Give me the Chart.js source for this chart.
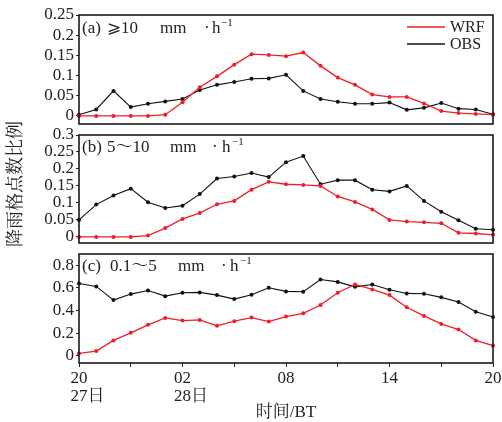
<!DOCTYPE html>
<html>
<head>
<meta charset="utf-8">
<script src="https://cdn.jsdelivr.net/npm/chart.js@4.4.1/dist/chart.umd.min.js"></script>
<style>
  html, body { margin: 0; padding: 0; background: #fff; }
  #wrap { position: relative; width: 502px; height: 422px; }
  #wrap canvas { position: absolute; left: 0; top: 0; }
</style>
</head>
<body>
<div id="wrap">
  <canvas id="chartA" width="502" height="422"></canvas>
  <canvas id="chartB" width="502" height="422"></canvas>
  <canvas id="chartC" width="502" height="422"></canvas>
</div>
<script>
// hours after 20:00 on the 27th
const hours = [0,1,2,3,4,5,6,7,8,9,10,11,12,13,14,15,16,17,18,19,20,21,22,23,24];
const xTickValues = [0,3,6,9,12,15,18,21,24];
const xLabelValues = [0,6,12,18,24];
const xLabelTop = ['20','02','08','14','20'];
const xLabelBottom = ['27日','28日','','',''];

// (a) >=10 mm/h
const wrfA = [0,0,0,0,0,0.003,0.034,0.071,0.098,0.127,0.153,0.151,0.148,0.157,0.124,0.095,0.077,0.053,0.047,0.047,0.031,0.012,0.007,0.005,0.003];
const obsA = [0.003,0.016,0.062,0.022,0.030,0.036,0.042,0.064,0.077,0.084,0.092,0.093,0.102,0.062,0.042,0.035,0.030,0.030,0.033,0.015,0.020,0.032,0.018,0.016,0.004];
// (b) 5~10 mm/h
const wrfB = [0,0,0,0,0.004,0.026,0.053,0.070,0.096,0.106,0.139,0.162,0.155,0.153,0.150,0.119,0.103,0.081,0.050,0.045,0.043,0.040,0.012,0.010,0.006];
const obsB = [0.050,0.095,0.122,0.142,0.102,0.085,0.092,0.126,0.172,0.178,0.188,0.176,0.220,0.238,0.155,0.167,0.167,0.139,0.134,0.150,0.106,0.074,0.049,0.024,0.021];
// (c) 0.1~5 mm/h
const wrfC = [0.020,0.041,0.135,0.202,0.273,0.334,0.311,0.316,0.264,0.305,0.337,0.302,0.346,0.375,0.448,0.557,0.630,0.586,0.536,0.428,0.352,0.281,0.231,0.135,0.088];
const obsC = [0.639,0.613,0.492,0.545,0.577,0.527,0.557,0.560,0.536,0.501,0.540,0.601,0.569,0.566,0.674,0.653,0.609,0.630,0.583,0.551,0.548,0.516,0.475,0.389,0.343];

const yTicksA = [0,0.05,0.1,0.15,0.2,0.25];
const yTicksB = [0,0.05,0.1,0.15,0.2,0.25,0.3];
const yTicksC = [0,0.2,0.4,0.6,0.8];

const SERIF = "'Liberation Serif', 'DejaVu Serif', 'Noto Serif CJK SC', 'Noto Sans CJK SC', serif";
const RED = '#ee1f26';
const BLACK = '#111111';

const toXY = arr => arr.map((v, i) => ({ x: hours[i], y: v }));

// frame, panel label, legend, axis titles, bottom labels
const decoPlugin = {
    id: 'deco',
    afterDraw(chart, args, opts) {
        const ctx = chart.ctx;
        const a = chart.chartArea;
        ctx.save();
        ctx.strokeStyle = '#1a1a1a';
        ctx.lineWidth = 1.6;
        ctx.strokeRect(a.left, a.top, a.right - a.left, a.bottom - a.top);

        // panel label pieces
        ctx.fillStyle = '#222';
        ctx.textBaseline = 'middle';
        ctx.textAlign = 'left';
        const ly = a.top + opts.labelDy;
        opts.label.forEach(p => {
            ctx.font = (p.sup ? '11px ' : '17px ') + SERIF;
            ctx.fillText(p.t, a.left + p.dx, p.sup ? ly - 6 : ly);
        });

        if (opts.legend) {
            const items = [['WRF', RED, 27], ['OBS', BLACK, 44]];
            ctx.font = '16px ' + SERIF;
            items.forEach(([t, c, y]) => {
                ctx.strokeStyle = c;
                ctx.lineWidth = 1.3;
                ctx.beginPath();
                ctx.moveTo(407, y);
                ctx.lineTo(445, y);
                ctx.stroke();
                ctx.fillStyle = '#222';
                ctx.fillText(t, 450, y + 1);
            });
        }

        if (opts.yTitle) {
            ctx.save();
            ctx.translate(16, 184);
            ctx.rotate(-Math.PI / 2);
            ctx.textAlign = 'center';
            ctx.font = '18px ' + SERIF;
            ctx.fillStyle = '#222';
            ctx.fillText('降雨格点数比例', 0, 0);
            ctx.restore();
        }

        if (opts.xLabels) {
            const xs = chart.scales.x;
            ctx.font = '17px ' + SERIF;
            ctx.fillStyle = '#222';
            ctx.textAlign = 'left';
            xLabelValues.forEach((v, i) => {
                const px = xs.getPixelForValue(v);
                const w = ctx.measureText(xLabelTop[i]).width;
                const left = px - w / 2;
                ctx.fillText(xLabelTop[i], left, 379);
                if (xLabelBottom[i]) ctx.fillText(xLabelBottom[i], left, 397);
            });
            ctx.textAlign = 'center';
            ctx.fillText('时间/BT', (chart.chartArea.left + chart.chartArea.right) / 2, 413);
        }
        ctx.restore();
    }
};

function makeChart(id, wrf, obs, yMin, yMax, yTicks, top, bottom, deco) {
    const showX = !!deco.xLabels;
    return new Chart(document.getElementById(id).getContext('2d'), {
        type: 'line',
        data: {
            datasets: [
                { label: 'WRF', data: toXY(wrf), borderColor: RED, backgroundColor: RED,
                  borderWidth: 1.3, pointRadius: 2, pointBorderWidth: 0, tension: 0, clip: false },
                { label: 'OBS', data: toXY(obs), borderColor: BLACK, backgroundColor: BLACK,
                  borderWidth: 1.1, pointRadius: 2, pointBorderWidth: 0, tension: 0, clip: false }
            ]
        },
        options: {
            responsive: false,
            animation: false,
            events: [],
            layout: { padding: { left: 0, right: 9, top: top, bottom: showX ? 422 - bottom - 4 : 422 - bottom } },
            plugins: { legend: { display: false }, tooltip: { enabled: false }, deco: deco },
            scales: {
                x: {
                    type: 'linear', min: 0, max: 24, display: showX,
                    afterBuildTicks: s => { s.ticks = xTickValues.map(v => ({ value: v })); },
                    afterFit: s => { s.height = showX ? 4 : 0; s.paddingLeft = 0; s.paddingRight = 0; },
                    ticks: { display: false },
                    border: { display: false },
                    grid: { drawOnChartArea: false, drawTicks: true, tickLength: 4, color: '#222', lineWidth: 1 }
                },
                y: {
                    min: yMin, max: yMax,
                    afterBuildTicks: s => { s.ticks = yTicks.map(v => ({ value: v })); },
                    afterFit: s => { s.width = 79; s.paddingTop = 0; s.paddingBottom = 0; },
                    ticks: {
                        autoSkip: false, padding: 2, color: '#222',
                        font: { family: SERIF, size: 17 },
                        callback: v => String(Math.round(v * 100) / 100)
                    },
                    border: { display: false },
                    grid: { drawOnChartArea: false, drawTicks: true, tickLength: 3, color: '#222', lineWidth: 1 }
                }
            }
        },
        plugins: [decoPlugin]
    });
}

makeChart('chartA', wrfA, obsA, -0.02, 0.25, yTicksA, 15, 124, {
    labelDy: 14, legend: true,
    label: [{ t: '(a)', dx: 3 }, { t: '⩾10', dx: 28 }, { t: 'mm', dx: 81 }, { t: '·', dx: 125 }, { t: 'h', dx: 133 }, { t: '−1', dx: 142, sup: true }]
});
makeChart('chartB', wrfB, obsB, -0.018, 0.3, yTicksB, 135, 243, {
    labelDy: 13, yTitle: true,
    label: [{ t: '(b)', dx: 3 }, { t: '5～10', dx: 28 }, { t: 'mm', dx: 91 }, { t: '·', dx: 133 }, { t: 'h', dx: 143 }, { t: '−1', dx: 153, sup: true }]
});
makeChart('chartC', wrfC, obsC, -0.065, 0.9, yTicksC, 254, 363, {
    labelDy: 13, xLabels: true,
    label: [{ t: '(c)', dx: 3 }, { t: '0.1～5', dx: 31 }, { t: 'mm', dx: 99 }, { t: '·', dx: 142 }, { t: 'h', dx: 151 }, { t: '−1', dx: 161, sup: true }]
});
</script>
</body>
</html>
